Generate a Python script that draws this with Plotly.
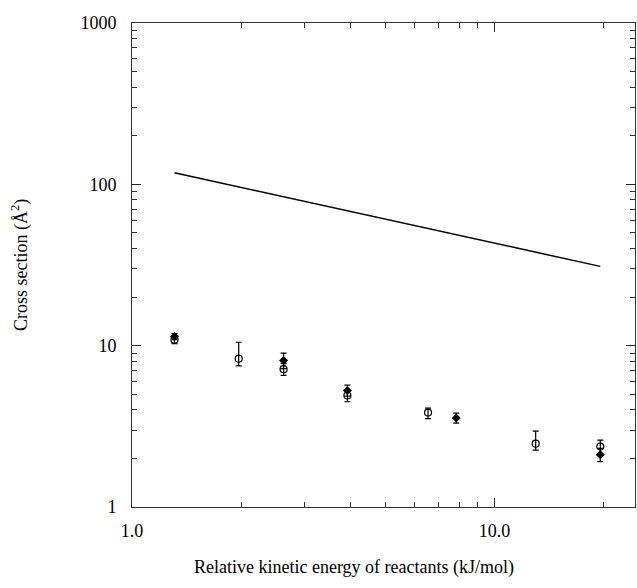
import plotly.graph_objects as go

# Model curve (straight line in log-log)
line_x = [1.31, 19.6]
line_y = [118.0, 31.0]

# Filled markers series
filled_x = [1.31, 2.62, 3.93, 7.85, 19.6]
filled_y = [11.4, 8.1, 5.27, 3.56, 2.11]
filled_err_plus = [0.5, 0.9, 0.42, 0.26, 0.2]
filled_err_minus = [0.5, 0.9, 0.4, 0.25, 0.2]

# Open circles series
open_x = [1.31, 1.97, 2.62, 3.93, 6.56, 13.0, 19.6]
open_y = [10.9, 8.3, 7.15, 4.91, 3.85, 2.47, 2.37]
open_err_plus = [0.6, 2.2, 0.6, 0.42, 0.25, 0.48, 0.23]
open_err_minus = [0.6, 0.8, 0.6, 0.42, 0.32, 0.22, 0.25]

x_tickvals = [1, 10]
x_ticktext = ["1.0", "10.0"]
y_tickvals = [1, 10, 100, 1000]
y_ticktext = ["1", "10", "100", "1000"]

x_minor = [2, 3, 4, 5, 6, 7, 8, 9, 20]
y_minor = [m * d for d in (1, 10, 100) for m in (2, 3, 4, 5, 6, 7, 8, 9)]

FONT = "Liberation Serif"

fig = go.Figure()
fig.add_trace(go.Scatter(x=line_x, y=line_y, mode="lines",
                         line=dict(color="black", width=1.5), showlegend=False))
fig.add_trace(go.Scatter(x=open_x, y=open_y, mode="markers",
                         marker=dict(symbol="circle-open", size=7, color="black",
                                     line=dict(width=1.2, color="black")),
                         error_y=dict(type="data", symmetric=False, array=open_err_plus,
                                      arrayminus=open_err_minus, color="black",
                                      thickness=1.2, width=3),
                         showlegend=False))
fig.add_trace(go.Scatter(x=filled_x, y=filled_y, mode="markers",
                         marker=dict(symbol="diamond", size=7, color="black"),
                         error_y=dict(type="data", symmetric=False, array=filled_err_plus,
                                      arrayminus=filled_err_minus, color="black",
                                      thickness=1.2, width=3),
                         showlegend=False))

axis_common = dict(
    showgrid=False, zeroline=False, showline=True, linecolor="#333",
    linewidth=1, mirror="allticks", ticks="inside", ticklen=9,
    tickcolor="#222", tickwidth=1.2,
    tickfont=dict(family=FONT, size=18, color="black"),
)

fig.update_xaxes(type="log", range=[0, 1.388], tickvals=x_tickvals, ticktext=x_ticktext,
                 ticklabelstandoff=7,
                 minor=dict(ticks="inside", ticklen=5, tickcolor="#333", tickwidth=1,
                            showgrid=False, tickvals=x_minor),
                 **axis_common)
fig.update_yaxes(type="log", range=[0, 3], tickvals=y_tickvals, ticktext=y_ticktext,
                 ticklabelstandoff=11,
                 minor=dict(ticks="inside", ticklen=5, tickcolor="#333", tickwidth=1,
                            showgrid=False, tickvals=y_minor),
                 **axis_common)

fig.add_annotation(text="Relative kinetic energy of reactants (kJ/mol)",
                   xref="paper", yref="paper", x=0.441, xanchor="center",
                   y=-0.126, yanchor="middle", showarrow=False,
                   font=dict(family=FONT, size=18, color="black"))
fig.add_annotation(text="Cross section (Å<sup>2</sup>)",
                   xref="paper", yref="paper", x=-0.2227, xanchor="center",
                   y=0.5, yanchor="middle", textangle=-90, showarrow=False,
                   font=dict(family=FONT, size=18, color="black"))

fig.update_layout(width=637, height=588, paper_bgcolor="white", plot_bgcolor="white",
                  margin=dict(l=132, r=2, t=23, b=81))
fig.write_html("out.html")
